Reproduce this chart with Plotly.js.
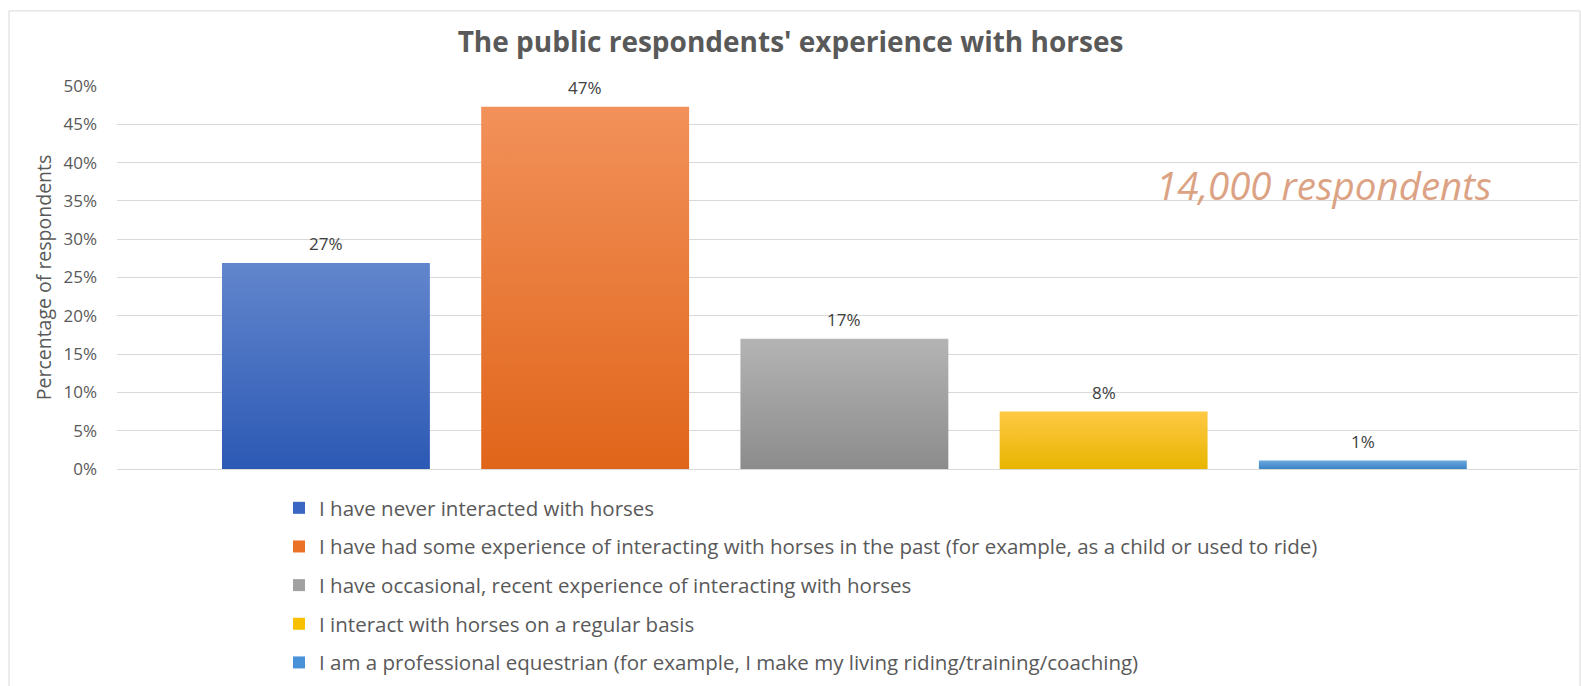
<!DOCTYPE html>
<html>
<head>
<meta charset="utf-8">
<script src="https://cdn.plot.ly/plotly-3.0.1.min.js"></script>
<style>
  html, body { margin: 0; padding: 0; background: #ffffff; }
  #chart { width: 1581px; height: 686px; }
</style>
</head>
<body>
<div id="chart"></div>
<script>
const categories = [
  "I have never interacted with horses",
  "I have had some experience of interacting with horses in the past (for example, as a child or used to ride)",
  "I have occasional, recent experience of interacting with horses",
  "I interact with horses on a regular basis",
  "I am a professional equestrian (for example, I make my living riding/training/coaching)"
];
const values = [26.9, 47.3, 17.0, 7.5, 1.1];
const valueLabels = ["27%", "47%", "17%", "8%", "1%"];
const yTickValues = [0, 5, 10, 15, 20, 25, 30, 35, 40, 45, 50];
const yTickLabels = ["0%", "5%", "10%", "15%", "20%", "25%", "30%", "35%", "40%", "45%", "50%"];

const solidColors = ["#3b67c2", "#ea7126", "#a1a1a1", "#f7c000", "#4a92d8"];
const gradTop = ["#6286cd", "#f2915a", "#b4b4b4", "#ffc945", "#6ba8df"];
const gradBottom = ["#2c59b4", "#e0651a", "#8c8c8c", "#e7b500", "#3a83c5"];

const font = "'Open Sans', 'Liberation Sans', sans-serif";

const traces = categories.map((c, i) => ({
  type: "bar",
  name: c,
  legendgroup: "g" + i,
  x: [c],
  y: [values[i]],
  marker: { color: solidColors[i], line: { width: 0 } },
  hoverinfo: "none"
}));

const annotations = categories.map((c, i) => ({
  x: c, y: values[i], xref: "x", yref: "y",
  text: valueLabels[i], showarrow: false,
  yanchor: "bottom", yshift: 6,
  font: { family: font, size: 17, color: "#404040" }
}));
annotations.push({
  xref: "paper", yref: "paper", x: 0.826, y: 0.742,
  xanchor: "center", yanchor: "middle",
  text: "<i>14,000 respondents</i>", showarrow: false,
  font: { family: font, size: 38.5, color: "#dca284" }
});

const layout = {
  width: 1581, height: 686,
  paper_bgcolor: "#ffffff", plot_bgcolor: "#ffffff",
  margin: { l: 117, r: 3, t: 86, b: 207, pad: 0 },
  title: {
    text: "The public respondents' experience with horses",
    font: { family: font, size: 28, color: "#595959", weight: 700 },
    x: 0.5, xanchor: "center", y: 0.939, yanchor: "middle", yref: "container"
  },
  barmode: "overlay",
  bargap: 0.198,
  xaxis: {
    type: "category",
    range: [-0.806, 4.83],
    showticklabels: false, showgrid: false, zeroline: false,
    showline: false, ticks: "", fixedrange: true
  },
  yaxis: {
    range: [0, 50],
    tickvals: yTickValues, ticktext: yTickLabels,
    tickfont: { family: font, size: 17, color: "#595959" },
    ticks: "", ticklabelstandoff: 19,
    showgrid: true, gridcolor: "#d9d9d9", gridwidth: 1,
    zeroline: true, zerolinecolor: "#d9d9d9", zerolinewidth: 1,
    showline: false,
    title: {
      text: "Percentage of respondents",
      font: { family: font, size: 19.5, color: "#595959" },
      standoff: 6
    }
  },
  showlegend: true,
  legend: {
    orientation: "v",
    x: 0.1109, xanchor: "left",
    y: -0.0496, yanchor: "top",
    font: { family: font, size: 20.5, color: "#595959" },
    itemwidth: 30,
    tracegroupgap: 9,
    bgcolor: "rgba(0,0,0,0)"
  },
  annotations: annotations,
  shapes: [{
    type: "rect", xref: "paper", yref: "paper",
    x0: -0.0739, x1: 1.0014, y0: -0.6, y1: 1.196,
    line: { color: "#d9d9d9", width: 1 }, fillcolor: "rgba(0,0,0,0)", layer: "below"
  }]
};

Plotly.newPlot("chart", traces, layout, { displayModeBar: false, staticPlot: true }).then(gd => {
  const svg = gd.querySelector("svg.main-svg");
  const ns = "http://www.w3.org/2000/svg";
  let defs = svg.querySelector("defs");
  if (!defs) { defs = document.createElementNS(ns, "defs"); svg.insertBefore(defs, svg.firstChild); }
  const barTraces = gd.querySelectorAll(".barlayer .trace");
  barTraces.forEach((t, i) => {
    const g = document.createElementNS(ns, "linearGradient");
    g.setAttribute("id", "barGrad" + i);
    g.setAttribute("x1", "0"); g.setAttribute("y1", "0");
    g.setAttribute("x2", "0"); g.setAttribute("y2", "1");
    const s1 = document.createElementNS(ns, "stop");
    s1.setAttribute("offset", "0"); s1.setAttribute("stop-color", gradTop[i]);
    const s2 = document.createElementNS(ns, "stop");
    s2.setAttribute("offset", "1"); s2.setAttribute("stop-color", gradBottom[i]);
    g.appendChild(s1); g.appendChild(s2); defs.appendChild(g);
    t.querySelectorAll("path").forEach(p => { p.style.fill = "url(#barGrad" + i + ")"; });
  });
});
</script>
</body>
</html>
